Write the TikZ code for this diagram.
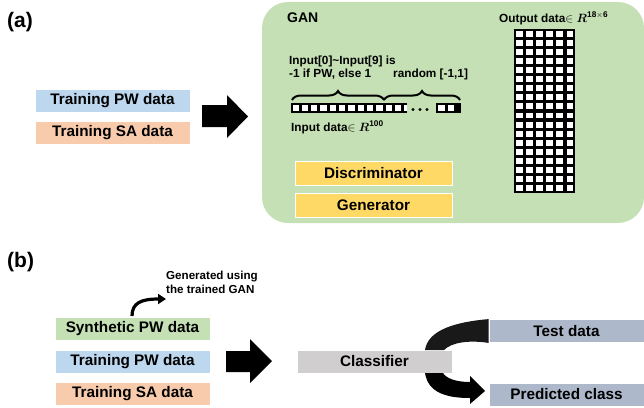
\documentclass[tikz,border=0pt]{standalone}
\usepackage{fontspec}
\setmainfont{Liberation Sans}
\usepackage{amsmath}
\usetikzlibrary{decorations.pathreplacing,arrows.meta}
\definecolor{pwblue}{RGB}{189,215,238}
\definecolor{sapeach}{RGB}{248,203,173}
\definecolor{syngreen}{RGB}{197,224,180}
\definecolor{gangreen}{RGB}{197,224,180}
\definecolor{genyellow}{RGB}{255,217,102}
\definecolor{clsgray}{RGB}{208,206,206}
\definecolor{outblue}{RGB}{173,185,202}
\begin{document}
\begin{tikzpicture}[x=1pt,y=-1pt,
  lbl/.style={font=\fontsize{15.3}{17}\selectfont\bfseries, inner sep=0, minimum width=155, minimum height=23, draw=white, line width=0.8},
  small/.style={font=\fontsize{11.8}{13}\selectfont\bfseries, inner sep=0, anchor=west},
  panel/.style={font=\fontsize{21}{24}\selectfont\bfseries, inner sep=0, anchor=west},
  blockarrow/.style={fill=black},
  bracedeco/.style={decorate, decoration={brace, amplitude=9}, line width=2}
]
\useasboundingbox (0,0) rectangle (644,407);
% ---------------- (a)
\node[panel] (pa) at (7,22) {(a)};
\node[lbl, fill=pwblue] (trpwa) at (112.5,100.5) {Training PW data};
\node[lbl, fill=sapeach] (trsaa) at (112.5,133) {Training SA data};
\fill[blockarrow] (202,105) -- (227,105) -- (227,95) -- (248,116.5) -- (227,138) -- (227,127) -- (202,127) -- cycle;
% GAN box
\fill[gangreen, rounded corners=26] (262,2) rectangle (644,223);
\node[anchor=west, inner sep=0, font=\fontsize{14}{16}\selectfont\bfseries] (gan) at (287,18) {GAN};
% input description
\node[small] (inl1) at (289,61) {Input[0]\textasciitilde Input[9] is};
\node[small] (inl2) at (289,74) {-1 if PW, else 1};
\node[small] (rnd) at (393,74) {random [-1,1]};
\draw[bracedeco] (292,100) -- (384,100);
\draw[bracedeco] (384,100) -- (460,100);
% input strip
\fill (291,103) rectangle (407,113);
\foreach \i in {0,...,11} \fill[white] ({292.5+\i*9.3},104.8) rectangle ++(6.3,6.4);
\fill[white] (404,104.8) rectangle (407,111.2);
\foreach \x in {413,420,427} \fill (\x,109.5) circle (1.6);
\fill (436,103) rectangle (461,113);
\foreach \x in {438.4,447.7} \fill[white] (\x,104.8) rectangle ++(6.3,6.4);
\node[small] (indata) at (291,127) {Input data$\in$ $\boldsymbol{R}^{\mathbf{100}}$};
% output grid
\node[small] (outdata) at (499,18) {Output data$\in$ $\boldsymbol{R}^{\mathbf{18\times 6}}$};
\fill (514,29) rectangle (575,193);
\foreach \i in {0,...,5} \foreach \j in {0,...,17}
  \fill[white] ({515.8+\i*10.17},{30.6+\j*9.11}) rectangle ++(6.7,5.9);
% disc / gen
\node[lbl, fill=genyellow, minimum width=157, minimum height=24] (disc) at (373.5,173) {Discriminator};
\node[lbl, fill=genyellow, minimum width=157, minimum height=24] (gen) at (373.5,205) {Generator};
% ---------------- (b)
\node[panel] (pb) at (7,262) {(b)};
\node[small, font=\fontsize{11.6}{14}\selectfont\bfseries, align=left, anchor=north west] (gtxt) at (166,271) {Generated using\\the trained GAN};
\node[lbl, fill=syngreen] (syn) at (132.5,328.5) {Synthetic PW data};
\node[lbl, fill=pwblue] (trpwb) at (132.5,361.5) {Training PW data};
\node[lbl, fill=sapeach] (trsab) at (132.5,394) {Training SA data};
\draw[line width=3.2, -{Triangle[length=8,width=10]}] (132,316) .. controls (132,303) and (141,299) .. (gtxt.west |- 0,299);
\fill[blockarrow] (226,351) -- (250,351) -- (250,339) -- (272,361) -- (250,383) -- (250,372) -- (226,372) -- cycle;
\node[lbl, fill=clsgray] (cls) at (374.5,361.5) {Classifier};
\node[lbl, fill=outblue] (test) at (566.5,331) {Test data};
\node[lbl, fill=outblue] (pred) at (566.5,394.5) {Predicted class};
% curved bands
\fill[black!90] (test.north west) .. controls (455,322) and (428,330) .. (425,350) -- (444,350) .. controls (452,342) and (470,340) .. (test.south west) -- cycle;
\fill[black] (425,373) .. controls (428,392) and (445,398) .. (470,398) -- (470,404) -- (485,391) -- (470,376) -- (470,382) .. controls (455,382) and (446,378) .. (443,373) -- cycle;
\end{tikzpicture}
\end{document}
